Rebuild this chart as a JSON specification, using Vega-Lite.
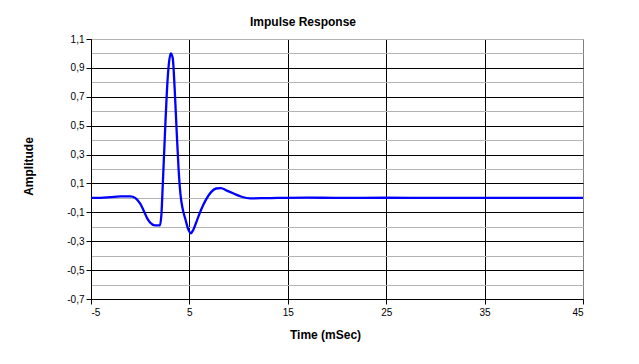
{
  "$schema": "https://vega.github.io/schema/vega-lite/v6.json",
  "width": 492,
  "height": 260,
  "autosize": {"type": "none"},
  "padding": {"left": 91, "top": 39, "right": 56, "bottom": 65},
  "background": "white",
  "title": {
    "text": "Impulse Response",
    "font": "Liberation Sans",
    "fontSize": 12,
    "fontWeight": "bold",
    "color": "black",
    "anchor": "middle",
    "dx": -34,
    "offset": 5
  },
  "config": {
    "view": {"stroke": "#808080", "strokeWidth": 1},
    "axis": {
      "labelFont": "Liberation Sans",
      "labelFontSize": 10,
      "labelColor": "black",
      "titleFont": "Liberation Sans",
      "titleFontSize": 12,
      "titleFontWeight": "bold",
      "titleColor": "black",
      "domainColor": "black",
      "tickColor": "black",
      "tickSize": 5,
      "gridOpacity": 1,
      "gridWidth": 1
    }
  },
  "data": {
    "values": [
      {"t": -5, "a": 0.0},
      {"t": -4, "a": 0.0},
      {"t": -3, "a": 0.005},
      {"t": -2, "a": 0.01},
      {"t": -1, "a": 0.01},
      {"t": -0.5, "a": 0.0},
      {"t": 0, "a": -0.04},
      {"t": 0.3, "a": -0.08},
      {"t": 0.7, "a": -0.14},
      {"t": 1.0, "a": -0.17},
      {"t": 1.5, "a": -0.19},
      {"t": 2.0, "a": -0.19},
      {"t": 2.15, "a": -0.12},
      {"t": 2.3, "a": 0.1},
      {"t": 2.5, "a": 0.42},
      {"t": 2.7, "a": 0.72},
      {"t": 2.9, "a": 0.92},
      {"t": 3.1, "a": 1.0},
      {"t": 3.3, "a": 0.97},
      {"t": 3.5, "a": 0.76},
      {"t": 3.7, "a": 0.47},
      {"t": 3.9, "a": 0.2},
      {"t": 4.1, "a": 0.02},
      {"t": 4.3, "a": -0.07},
      {"t": 4.6, "a": -0.15},
      {"t": 4.9, "a": -0.22},
      {"t": 5.15, "a": -0.245},
      {"t": 5.4, "a": -0.22},
      {"t": 5.8, "a": -0.15},
      {"t": 6.2, "a": -0.08},
      {"t": 6.7, "a": -0.01},
      {"t": 7.2, "a": 0.04},
      {"t": 7.7, "a": 0.065},
      {"t": 8.2, "a": 0.068},
      {"t": 8.8, "a": 0.05},
      {"t": 9.5, "a": 0.03},
      {"t": 10.3, "a": 0.008},
      {"t": 11.2, "a": -0.003},
      {"t": 12.5, "a": -0.002},
      {"t": 14, "a": 0.0},
      {"t": 17, "a": 0.002},
      {"t": 20, "a": 0.0},
      {"t": 25, "a": 0.001},
      {"t": 30, "a": 0.0},
      {"t": 35, "a": 0.0},
      {"t": 40, "a": 0.0},
      {"t": 45, "a": 0.0}
    ]
  },
  "mark": {"type": "line", "color": "#0000FF", "strokeWidth": 2.3, "interpolate": "monotone", "clip": true},
  "encoding": {
    "x": {
      "field": "t",
      "type": "quantitative",
      "scale": {"domain": [-5, 45], "nice": false, "zero": false},
      "axis": {
        "title": "Time (mSec)",
        "values": [-5, 5, 15, 25, 35, 45],
        "labelExpr": "'' + datum.value",
        "labelPadding": 3,
        "gridColor": {"condition": {"test": "datum.value > 44", "value": "#808080"}, "value": "black"},
        "titleX": 234,
        "titleY": 39,
        "titleAlign": "center",
        "titleBaseline": "alphabetic"
      }
    },
    "y": {
      "field": "a",
      "type": "quantitative",
      "scale": {"domain": [-0.7, 1.1], "nice": false, "zero": false},
      "axis": {
        "title": "Amplitude",
        "values": [-0.7, -0.6, -0.5, -0.4, -0.3, -0.2, -0.1, 0, 0.1, 0.2, 0.3, 0.4, 0.5, 0.6, 0.7, 0.8, 0.9, 1.0, 1.1],
        "labelExpr": "abs(round(datum.value*10)) % 2 == 1 ? replace(replace(format(datum.value, '.1f'), '.', ','), '\u2212', '-') : ''",
        "labelPadding": 2,
        "tickOpacity": {"condition": {"test": "abs(round(datum.value*10)) % 2 == 1", "value": 1}, "value": 0},
        "gridColor": {"condition": {"test": "abs(round(datum.value*10)) % 2 == 1 && datum.value < 1.05", "value": "black"}, "value": "#b4b4b4"},
        "titleAngle": -90,
        "titleX": -59,
        "titleY": 127,
        "titleAlign": "center",
        "titleBaseline": "alphabetic"
      }
    }
  }
}
